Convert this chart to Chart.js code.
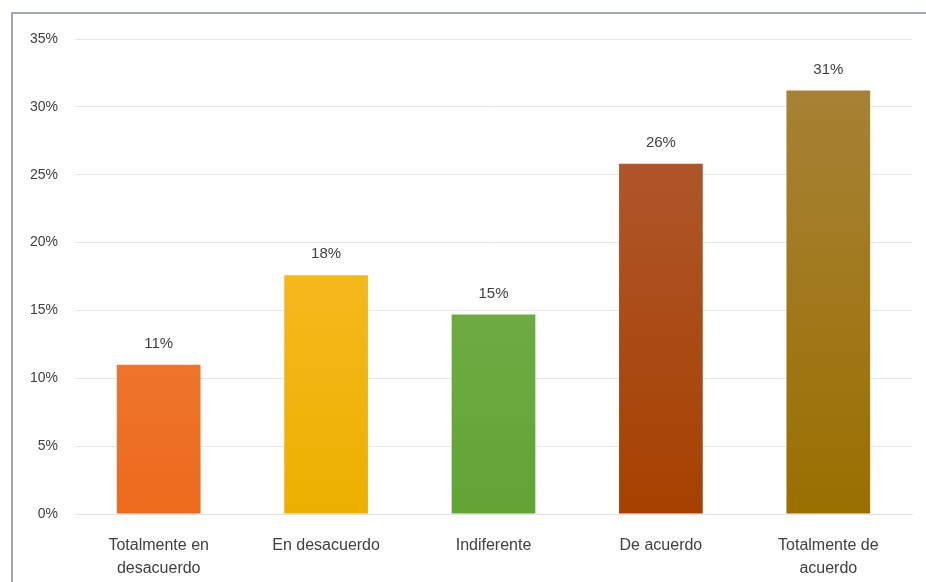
<!DOCTYPE html>
<html>
<head>
<meta charset="utf-8">
<script src="https://cdn.jsdelivr.net/npm/chart.js@4/dist/chart.umd.min.js"></script>
<style>
  html, body { margin: 0; padding: 0; background: #fff; }
  #wrap { position: relative; width: 926px; height: 582px; overflow: hidden; }
  #frame { position: absolute; left: 11px; top: 12px; width: 940px; height: 600px;
           border-top: 2px solid #a3a8b8; border-left: 2px solid #a3a8b8; pointer-events: none; }
  canvas { position: absolute; left: 0; top: 0; }
</style>
</head>
<body>
<div id="wrap">
  <canvas id="c" width="926" height="582"></canvas>
  <div id="frame"></div>
</div>
<script>
const categories = [['Totalmente en', 'desacuerdo'], 'En desacuerdo', 'Indiferente', 'De acuerdo', ['Totalmente de', 'acuerdo']];
const values = [11, 17.6, 14.7, 25.8, 31.2];
const topColors = ['#f28c50', '#fcc138', '#7cb756', '#b15c38', '#a8843c'];
const bottomColors = ['#ec6a1c', '#ecb000', '#62a334', '#a64100', '#9a6f00'];
const yTicks = [0, 5, 10, 15, 20, 25, 30, 35];

const valueLabels = {
    id: 'valueLabels',
    afterDatasetsDraw(chart) {
        const ctx = chart.ctx;
        const meta = chart.getDatasetMeta(0);
        ctx.save();
        ctx.font = '15px "Liberation Sans", Arial, sans-serif';
        ctx.fillStyle = '#404040';
        ctx.textAlign = 'center';
        ctx.textBaseline = 'middle';
        meta.data.forEach(function (bar, i) {
            ctx.fillText(Math.round(values[i]) + '%', bar.x, bar.y - 21);
        });
        ctx.restore();
    }
};

const chart = new Chart(document.getElementById('c').getContext('2d'), {
    type: 'bar',
    data: {
        labels: categories,
        datasets: [{
            data: values,
            backgroundColor: function (context) {
                const area = context.chart.chartArea;
                if (!area) return topColors[context.dataIndex];
                const bar = context.chart.getDatasetMeta(0).data[context.dataIndex];
                const top = bar && isFinite(bar.y) ? bar.y : area.top;
                const g = context.chart.ctx.createLinearGradient(0, top, 0, area.bottom);
                g.addColorStop(0, topColors[context.dataIndex]);
                g.addColorStop(1, bottomColors[context.dataIndex]);
                return g;
            },
            borderWidth: 0,
            barPercentage: 0.5,
            categoryPercentage: 1
        }]
    },
    options: {
        responsive: false,
        animation: false,
        layout: { padding: { top: 39, right: 14, left: 0, bottom: 0 } },
        plugins: {
            legend: { display: false },
            tooltip: { enabled: false }
        },
        scales: {
            x: {
                grid: { display: false },
                border: { color: '#e2e2e2' },
                ticks: {
                    color: '#404040',
                    font: { family: '"Liberation Sans", Arial, sans-serif', size: 16, lineHeight: 1.45 },
                    padding: 12,
                    maxRotation: 0
                },
                afterFit: function (scale) { scale.height = 68; }
            },
            y: {
                min: 0,
                max: 35,
                grid: { color: '#e8e8e8', drawTicks: false },
                border: { display: false },
                afterBuildTicks: function (scale) {
                    scale.ticks = yTicks.map(function (v) { return { value: v }; });
                },
                ticks: {
                    color: '#404040',
                    font: { family: '"Liberation Sans", Arial, sans-serif', size: 14 },
                    padding: 17,
                    callback: function (v) { return v + '%'; }
                },
                afterFit: function (scale) { scale.width = 75; }
            }
        }
    },
    plugins: [valueLabels]
});
</script>
</body>
</html>
